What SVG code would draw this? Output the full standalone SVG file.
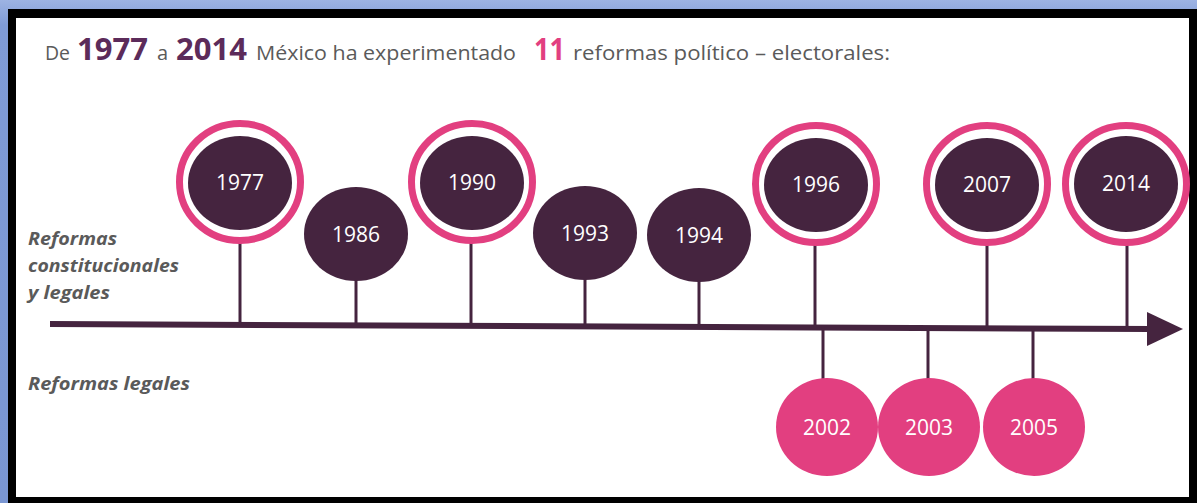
<svg xmlns="http://www.w3.org/2000/svg" width="1197" height="503" viewBox="0 0 1197 503">
<defs>
<linearGradient id="blue" x1="0" y1="0" x2="0" y2="1">
<stop offset="0" stop-color="#9db3e3"/>
<stop offset="0.05" stop-color="#7f9bd6"/>
<stop offset="1" stop-color="#7a96d2"/>
</linearGradient>
<style>
.dark{fill:#45243f}
.ring{fill:none;stroke:#e23f80;stroke-width:7}
.pink{fill:#e23f80}
.stem{stroke:#45243f;stroke-width:3;fill:none}
.yr{font-family:"Open Sans",sans-serif;font-size:21px;fill:#ffffff;text-anchor:middle}
.lbl{font-family:"Open Sans",sans-serif;font-size:18.5px;font-weight:bold;font-style:italic;fill:#5a5a5a}
.t{font-family:"Open Sans",sans-serif;fill:#5a5a5a;font-size:20px}
.big{font-family:"Open Sans",sans-serif;font-weight:bold;font-size:31px;fill:#5c2b5a}
</style>
</defs>
<rect x="0" y="0" width="1197" height="503" fill="url(#blue)"/>
<rect x="8" y="9" width="1189" height="494" fill="#000"/>
<rect x="16" y="18" width="1173" height="479" fill="#fff"/>

<g id="title">
<text class="t" x="45" y="60" textLength="25" lengthAdjust="spacingAndGlyphs">De</text>
<text class="big" x="77" y="60" textLength="71" lengthAdjust="spacingAndGlyphs">1977</text>
<text class="t" x="157" y="60">a</text>
<text class="big" x="176" y="60" textLength="71" lengthAdjust="spacingAndGlyphs">2014</text>
<text class="t" x="256" y="60" textLength="260" lengthAdjust="spacingAndGlyphs">México ha experimentado</text>
<text class="big" x="534" y="60" textLength="31" lengthAdjust="spacingAndGlyphs" style="fill:#e23f80">11</text>
<text class="t" x="573" y="60" textLength="317" lengthAdjust="spacingAndGlyphs">reformas político – electorales:</text>
</g>

<g id="labels">
<text class="lbl" x="28" y="245" textLength="89" lengthAdjust="spacingAndGlyphs">Reformas</text>
<text class="lbl" x="28" y="272" textLength="151" lengthAdjust="spacingAndGlyphs">constitucionales</text>
<text class="lbl" x="28" y="299" textLength="82" lengthAdjust="spacingAndGlyphs">y legales</text>
<text class="lbl" x="28" y="390" textLength="162" lengthAdjust="spacingAndGlyphs">Reformas legales</text>
</g>

<g id="connectors">
<line x1="50" y1="324" x2="1152" y2="329" stroke="#45243f" stroke-width="6"/>
<polygon points="1147,312 1183,329 1147,346" fill="#45243f"/>
<line class="stem" x1="240" y1="240" x2="240" y2="325"/>
<line class="stem" x1="356" y1="275" x2="356" y2="325"/>
<line class="stem" x1="471" y1="240" x2="471" y2="326"/>
<line class="stem" x1="585" y1="275" x2="585" y2="326"/>
<line class="stem" x1="699" y1="275" x2="699" y2="327"/>
<line class="stem" x1="815" y1="240" x2="815" y2="327"/>
<line class="stem" x1="987" y1="240" x2="987" y2="328"/>
<line class="stem" x1="1127" y1="240" x2="1127" y2="329"/>
<line class="stem" x1="823" y1="327" x2="823" y2="380"/>
<line class="stem" x1="928" y1="328" x2="928" y2="380"/>
<line class="stem" x1="1033" y1="328" x2="1033" y2="380"/>
</g>

<g id="n1977"><ellipse class="ring" cx="240" cy="182" rx="60.5" ry="58.5"/><ellipse class="dark" cx="240" cy="183" rx="52" ry="47"/><text class="yr" x="240" y="190">1977</text></g>
<g id="n1986"><ellipse class="dark" cx="356" cy="234" rx="52" ry="47"/><text class="yr" x="356" y="242">1986</text></g>
<g id="n1990"><ellipse class="ring" cx="472" cy="182" rx="60.5" ry="58.5"/><ellipse class="dark" cx="472" cy="183" rx="52" ry="47"/><text class="yr" x="472" y="190">1990</text></g>
<g id="n1993"><ellipse class="dark" cx="585" cy="233" rx="52" ry="47"/><text class="yr" x="585" y="241">1993</text></g>
<g id="n1994"><ellipse class="dark" cx="699" cy="235" rx="52" ry="47"/><text class="yr" x="699" y="243">1994</text></g>
<g id="n1996"><ellipse class="ring" cx="816" cy="184" rx="60.5" ry="58.5"/><ellipse class="dark" cx="816" cy="185" rx="52" ry="47"/><text class="yr" x="816" y="192">1996</text></g>
<g id="n2007"><ellipse class="ring" cx="987" cy="184" rx="60.5" ry="58.5"/><ellipse class="dark" cx="987" cy="185" rx="52" ry="47"/><text class="yr" x="987" y="192">2007</text></g>
<g id="n2014"><ellipse class="ring" cx="1126" cy="184" rx="60.5" ry="58.5"/><ellipse class="dark" cx="1126" cy="184" rx="52" ry="48"/><text class="yr" x="1126" y="191">2014</text></g>
<g id="n2002"><ellipse class="pink" cx="827" cy="427" rx="51" ry="49"/><text class="yr" x="827" y="435">2002</text></g>
<g id="n2003"><ellipse class="pink" cx="929" cy="427" rx="51" ry="49"/><text class="yr" x="929" y="435">2003</text></g>
<g id="n2005"><ellipse class="pink" cx="1034" cy="427" rx="51" ry="49"/><text class="yr" x="1034" y="435">2005</text></g>
</svg>
